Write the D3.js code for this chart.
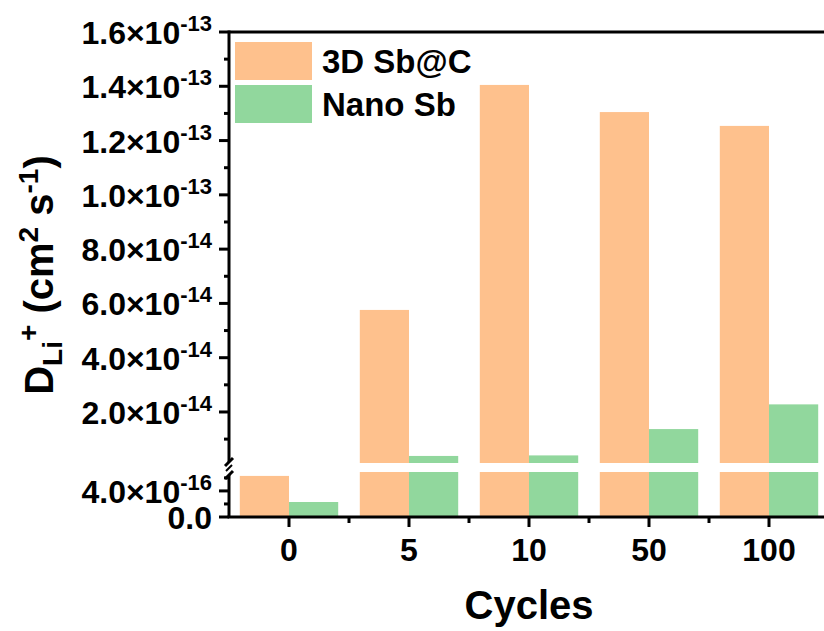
<!DOCTYPE html>
<html>
<head>
<meta charset="utf-8">
<script src="https://cdn.jsdelivr.net/npm/d3@7"></script>
<style>
  body { margin: 0; background: #fff; }
  svg text { font-family: "Liberation Sans", Arial, sans-serif; font-weight: bold; fill: #000; }
</style>
</head>
<body>
<div id="plot"></div>
<script>
// data
var cycles = ["0", "5", "10", "50", "100"];
var series = ["3D Sb@C", "Nano Sb"];
var sbc = [6.3e-16, 5.76e-14, 1.405e-13, 1.305e-13, 1.254e-13];
var nano = [2.3e-16, 3.8e-15, 4.0e-15, 1.37e-14, 2.28e-14];
var colors = ["#FEC18D", "#91D79D"];

// broken y axis: lower and upper segments
var loMax = 6.9e-16, upMin = 1.2e-15, upMax = 1.6e-13;
var loMajor = [0, 4e-16], loMinor = [2e-16, 6e-16];
var upMajor = [2e-14, 4e-14, 6e-14, 8e-14, 1e-13, 1.2e-13, 1.4e-13, 1.6e-13];
var upMinor = [1e-14, 3e-14, 5e-14, 7e-14, 9e-14, 1.1e-13, 1.3e-13, 1.5e-13];

var W = 824, H = 631;
var pLeft = 229, pRight = 829, pBottom = 517, pTop = 32;

var svg = d3.select("#plot").append("svg")
            .attr("width", W)
            .attr("height", H);

var x0 = d3.scaleBand().domain(cycles).range([pLeft, pRight])
           .paddingInner(0.18).paddingOuter(0.09);
var x1 = d3.scaleBand().domain(series).range([0, x0.bandwidth()]);
var yLo = d3.scaleLinear().domain([0, loMax]).range([pBottom, 472]);
var yUp = d3.scaleLinear().domain([upMin, upMax]).range([463, pTop]);

var rows = [];
cycles.forEach(function(c, i){
    rows.push({c: c, s: series[0], v: sbc[i], col: colors[0]});
    rows.push({c: c, s: series[1], v: nano[i], col: colors[1]});
});

var bars = svg.append("g");
rows.forEach(function(d){
    var bx = x0(d.c) + x1(d.s);
    var lv = Math.min(d.v, loMax);
    bars.append("rect")
        .attr("x", bx).attr("width", x1.bandwidth())
        .attr("y", yLo(lv)).attr("height", yLo(0) - yLo(lv))
        .attr("fill", d.col);
    if (d.v > upMin) {
        bars.append("rect")
            .attr("x", bx).attr("width", x1.bandwidth())
            .attr("y", yUp(d.v)).attr("height", yUp(upMin) - yUp(d.v))
            .attr("fill", d.col);
    }
});

// axes lines
var ax = svg.append("g").attr("stroke", "#000").attr("stroke-width", 3).attr("fill", "none");
ax.append("line").attr("x1", pLeft).attr("x2", W).attr("y1", pTop).attr("y2", pTop);
ax.append("line").attr("x1", pLeft - 1.5).attr("x2", W).attr("y1", pBottom).attr("y2", pBottom);
ax.append("line").attr("x1", pLeft).attr("x2", pLeft).attr("y1", pTop - 1.5).attr("y2", 462);
ax.append("line").attr("x1", pLeft).attr("x2", pLeft).attr("y1", 475).attr("y2", pBottom);
// break marks
ax.append("line").attr("x1", pLeft - 4).attr("x2", pLeft + 4).attr("y1", 466).attr("y2", 458);
ax.append("line").attr("x1", pLeft - 4).attr("x2", pLeft + 4).attr("y1", 479).attr("y2", 471);
ax.append("line").attr("x1", pLeft - 3).attr("x2", pLeft + 3).attr("y1", 471).attr("y2", 465).attr("stroke-width", 2);

// y ticks
upMajor.forEach(function(v){ ax.append("line").attr("x1", pLeft - 10).attr("x2", pLeft).attr("y1", yUp(v)).attr("y2", yUp(v)); });
upMinor.forEach(function(v){ ax.append("line").attr("x1", pLeft - 5).attr("x2", pLeft).attr("y1", yUp(v)).attr("y2", yUp(v)); });
loMajor.forEach(function(v){ ax.append("line").attr("x1", pLeft - 10).attr("x2", pLeft).attr("y1", yLo(v)).attr("y2", yLo(v)); });
loMinor.forEach(function(v){ ax.append("line").attr("x1", pLeft - 5).attr("x2", pLeft).attr("y1", yLo(v)).attr("y2", yLo(v)); });

// x ticks
cycles.forEach(function(c){
    var cx = x0(c) + x0.bandwidth() / 2;
    ax.append("line").attr("x1", cx).attr("x2", cx).attr("y1", pBottom).attr("y2", pBottom + 10);
    ax.append("line").attr("x1", cx + x0.step() / 2).attr("x2", cx + x0.step() / 2)
      .attr("y1", pBottom).attr("y2", pBottom + 6);
});

// y tick labels
function sciLabel(v, yPos) {
    var t = svg.append("text").attr("x", 212).attr("y", yPos + 12)
               .attr("text-anchor", "end").attr("font-size", 32);
    if (v === 0) { t.text("0.0"); return; }
    var e = Math.floor(Math.log10(v) + 1e-9);
    var m = v / Math.pow(10, e);
    t.append("tspan").text(m.toFixed(1) + "\u00d710");
    t.append("tspan").attr("dy", -13).attr("font-size", 22).text("-" + Math.abs(e));
}
upMajor.forEach(function(v){ sciLabel(v, yUp(v)); });
loMajor.forEach(function(v){ sciLabel(v, yLo(v)); });

// x tick labels
svg.append("g").selectAll("text").data(cycles).enter().append("text")
   .attr("x", d => x0(d) + x0.bandwidth() / 2)
   .attr("y", 561)
   .attr("text-anchor", "middle")
   .attr("font-size", 32)
   .text(d => d);

svg.append("text").attr("x", 529).attr("y", 619).attr("text-anchor", "middle")
   .attr("font-size", 40).text("Cycles");

// y title
var yt = svg.append("text").attr("transform", "translate(53,275) rotate(-90)")
            .attr("text-anchor", "middle").attr("font-size", 40);
yt.append("tspan").text("D");
yt.append("tspan").attr("font-size", 28).attr("dy", 9).text("Li");
yt.append("tspan").attr("font-size", 28).attr("dy", -24).text("+");
yt.append("tspan").attr("dy", 15).text(" (cm");
yt.append("tspan").attr("font-size", 28).attr("dy", -15).text("2");
yt.append("tspan").attr("dy", 15).text(" s");
yt.append("tspan").attr("font-size", 28).attr("dy", -15).text("-1");
yt.append("tspan").attr("dy", 15).text(")");

// legend
var lg = svg.append("g");
series.forEach(function(s, i){
    lg.append("rect").attr("x", 235).attr("y", 42 + i * 43).attr("width", 77).attr("height", 38)
      .attr("fill", colors[i]);
    lg.append("text").attr("x", 322).attr("y", 73 + i * 43).attr("font-size", 33).text(s);
});
</script>
</body>
</html>
